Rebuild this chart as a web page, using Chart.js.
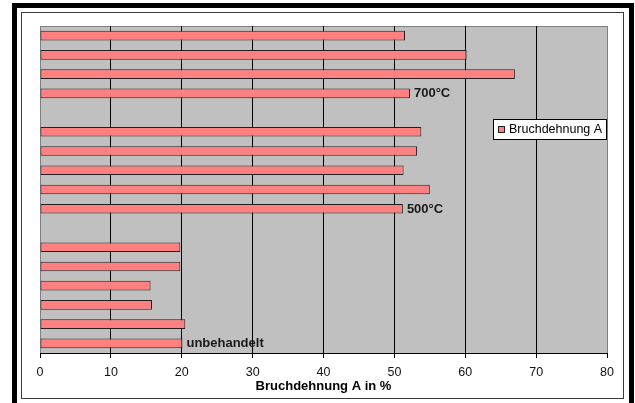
<!DOCTYPE html>
<html>
<head>
<meta charset="utf-8">
<title>Bruchdehnung A</title>
<script src="https://cdn.jsdelivr.net/npm/chart.js@4/dist/chart.umd.min.js"></script>
<style>
  html, body { margin: 0; padding: 0; background: #ffffff; }
  #wrap { width: 635px; height: 403px; }
</style>
</head>
<body>
<div id="wrap"><canvas id="chart" width="635" height="403"></canvas></div>
<script>
// Samples from bottom to top; empty categories separate the groups.
const categories = [
  'unbehandelt', '', '', '', '', '',
  '',
  '500°C', '', '', '', '',
  '',
  '700°C', '', '', ''
];
const elongation = [
  20.1, 20.5, 15.8, 15.6, 19.8, 19.8,
  null,
  51.2, 55.0, 51.3, 53.2, 53.8,
  null,
  52.2, 67.0, 60.2, 51.5
];
const seriesName = 'Bruchdehnung A';
const axisTitle = 'Bruchdehnung A in %';
const xTicks = [0, 10, 20, 30, 40, 50, 60, 70, 80];

const FONT = "'Liberation Sans', Arial, Helvetica, sans-serif";
Chart.defaults.font.family = FONT;

// Page frame and grey plot background
const framePlugin = {
  id: 'frame',
  beforeDraw(chart) {
    const ctx = chart.ctx;
    const a = chart.chartArea;
    ctx.save();
    ctx.fillStyle = '#ffffff';
    ctx.fillRect(0, 0, chart.width, chart.height);
    // heavy black border (top, left, right)
    ctx.fillStyle = '#000000';
    ctx.fillRect(12, 3, 622, 5);
    ctx.fillRect(12, 3, 5, 400);
    ctx.fillRect(629, 3, 5, 400);
    // thin inner border
    ctx.strokeStyle = '#3a3a3a';
    ctx.lineWidth = 1;
    ctx.strokeRect(21.5, 12.5, 602, 386);
    // plot area
    ctx.fillStyle = '#c0c0c0';
    ctx.fillRect(a.left, a.top, a.right - a.left, a.bottom - a.top);
    ctx.strokeStyle = '#808080';
    ctx.beginPath();
    ctx.moveTo(a.left, a.top + 0.5);
    ctx.lineTo(a.right, a.top + 0.5);
    ctx.stroke();
    ctx.restore();
  }
};

// Group names written at the end of the first bar of each group
const barLabelPlugin = {
  id: 'barLabels',
  afterDatasetsDraw(chart) {
    const ctx = chart.ctx;
    const meta = chart.getDatasetMeta(0);
    ctx.save();
    ctx.font = 'bold 13px ' + FONT;
    ctx.fillStyle = '#1a1a1a';
    ctx.textAlign = 'left';
    ctx.textBaseline = 'middle';
    meta.data.forEach((bar, i) => {
      const text = chart.data.labels[i];
      if (!text || elongation[i] == null) return;
      ctx.fillText(text, bar.x + 4, bar.y + 0.5);
    });
    ctx.restore();
  }
};

// Boxed legend inside the plot area
const boxLegendPlugin = {
  id: 'boxLegend',
  afterDraw(chart) {
    const ctx = chart.ctx;
    const a = chart.chartArea;
    const ds = chart.data.datasets[0];
    const w = 114, h = 21;
    const x = a.right - w, y = a.top + 93;
    ctx.save();
    ctx.fillStyle = '#ffffff';
    ctx.fillRect(x, y, w, h);
    ctx.strokeStyle = '#000000';
    ctx.lineWidth = 1;
    ctx.strokeRect(x + 0.5, y + 0.5, w - 1, h - 1);
    ctx.fillStyle = ds.backgroundColor;
    ctx.fillRect(x + 5, y + 7, 7, 7);
    ctx.strokeStyle = '#202020';
    ctx.strokeRect(x + 5.5, y + 7.5, 6, 6);
    ctx.font = '12.5px ' + FONT;
    ctx.fillStyle = '#000000';
    ctx.textAlign = 'left';
    ctx.textBaseline = 'middle';
    ctx.fillText(ds.label, x + 16, y + h / 2 + 0.5);
    ctx.restore();
  }
};

new Chart(document.getElementById('chart'), {
  type: 'bar',
  data: {
    labels: categories,
    datasets: [{
      label: seriesName,
      data: elongation,
      backgroundColor: '#ff8080',
      borderColor: '#202020',
      borderWidth: 1,
      borderSkipped: false,
      categoryPercentage: 1,
      barPercentage: 0.5
    }]
  },
  options: {
    indexAxis: 'y',
    responsive: false,
    animation: false,
    layout: { padding: { left: 40, right: 28, top: 26, bottom: 0 } },
    plugins: {
      legend: { display: false },
      tooltip: { enabled: false }
    },
    scales: {
      y: {
        type: 'category',
        reverse: true,
        display: false
      },
      x: {
        type: 'linear',
        min: xTicks[0],
        max: xTicks[xTicks.length - 1],
        afterBuildTicks(scale) {
          scale.ticks = xTicks.map(v => ({ value: v }));
        },
        afterFit(scale) { scale.height = 50; },
        ticks: {
          color: '#111111',
          font: { size: 12.5 },
          padding: 7,
          maxRotation: 0
        },
        grid: {
          color: ctx => (ctx.index === 0 || ctx.index === xTicks.length - 1) ? '#808080' : '#000000',
          lineWidth: 1,
          drawTicks: true,
          tickLength: 5,
          tickColor: '#000000'
        },
        border: { display: true, color: '#000000', width: 1 },
        title: {
          display: true,
          text: axisTitle,
          color: '#000000',
          font: { size: 13, weight: 'bold' },
          padding: { top: 0, bottom: 9 }
        }
      }
    }
  },
  plugins: [framePlugin, barLabelPlugin, boxLegendPlugin]
});
</script>
</body>
</html>
